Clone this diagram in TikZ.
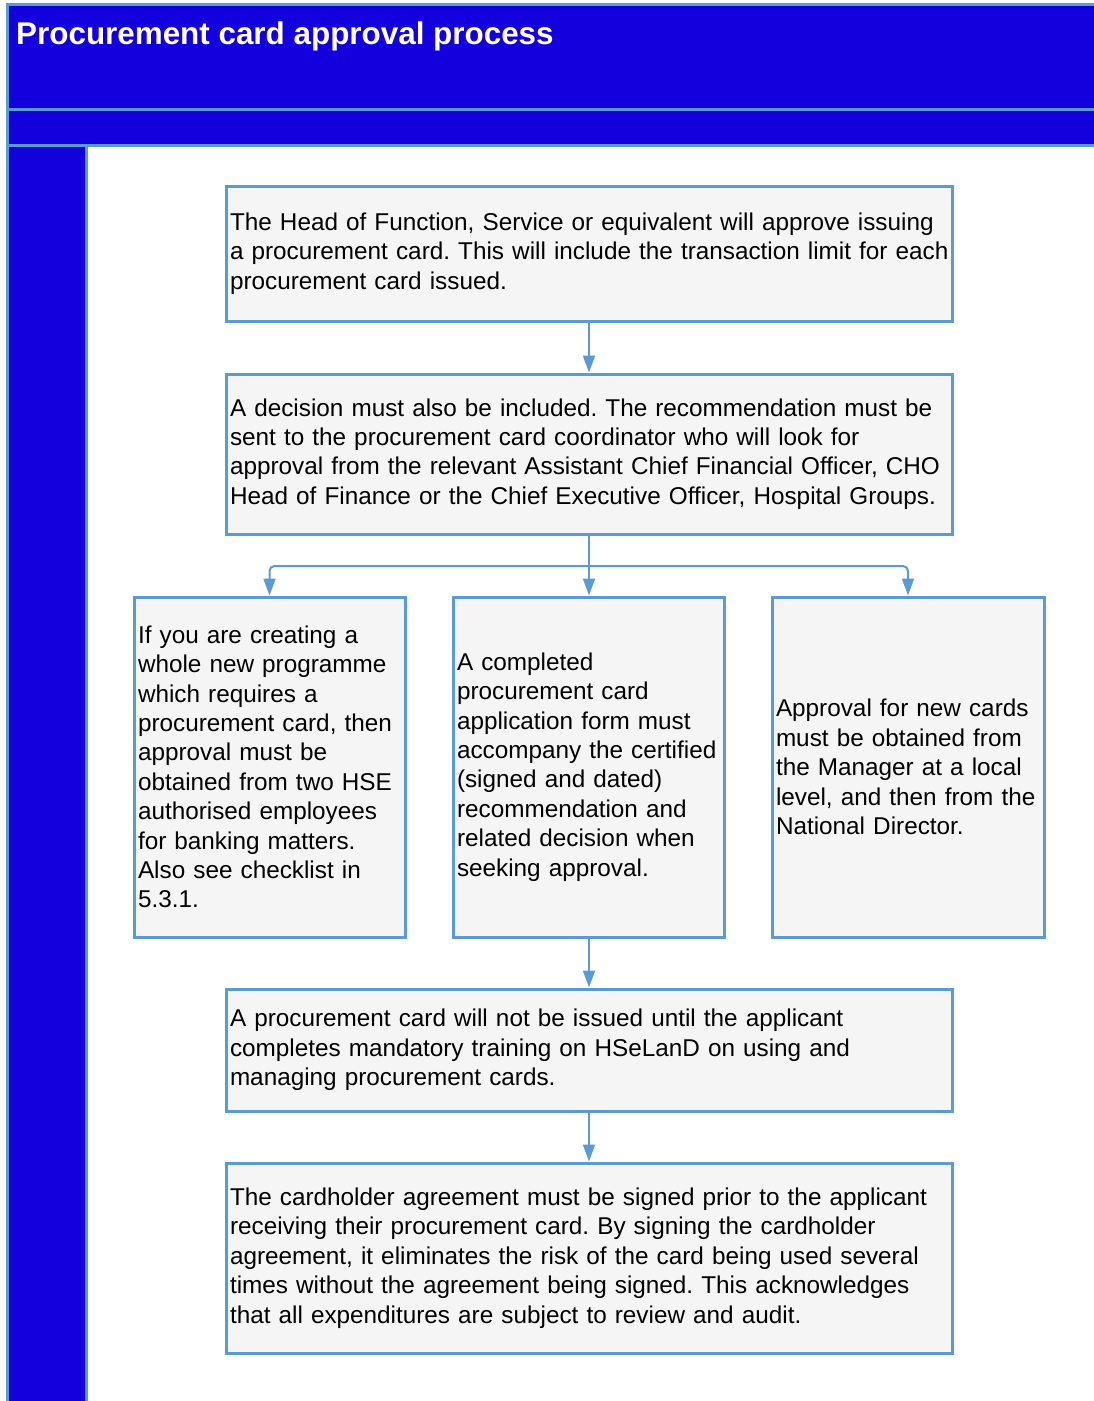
\documentclass[tikz,border=0pt]{standalone}
\usepackage{fontspec}
\setmainfont{Liberation Sans}
\usetikzlibrary{arrows.meta}
\frenchspacing

\definecolor{hseblue}{RGB}{19,0,221}
\definecolor{edgeblue}{RGB}{91,155,213}
\definecolor{boxgrey}{RGB}{245,245,245}

\tikzset{
  band/.style={fill=hseblue, draw=edgeblue, line width=3pt},
  stepbox/.style={draw=edgeblue, line width=3pt, fill=boxgrey, align=left,
    inner xsep=4pt, inner ysep=0pt, font=\fontsize{24.3}{29.4}\selectfont},
  flowline/.style={draw=edgeblue, line width=2pt},
  flow/.style={flowline, -{Triangle[length=17pt,width=12pt]}}
}

\begin{document}
\begin{tikzpicture}[x=1pt, y=-1pt]
          \useasboundingbox (0,0) rectangle (1093,1401);

          % header and side column
          \draw[band] (7,4) rectangle (1100,109);
          \draw[band] (7,109) rectangle (1100,145);
          \draw[band] (7,145) rectangle (86,1410);
          \node[anchor=base west, inner sep=0pt, text=white,
            font=\fontsize{31.4}{36}\selectfont\bfseries] (title) at (16,44)
            {Procurement card approval process};

          \node[stepbox, text width=718pt, minimum height=135pt] (approve) at (589,253.5)
            {The Head of Function, Service or equivalent will approve issuing\\
             \mbox{a procurement card. This will include the transaction limit for each}\\
             procurement card issued.};
          \node[stepbox, text width=718pt, minimum height=160pt] (decision) at (589,454)
            {A decision must also be included. The recommendation must be\\
             sent to the procurement card coordinator who will look for\\
             approval from the relevant Assistant Chief Financial Officer, CHO\\
             Head of Finance or the Chief Executive Officer, Hospital Groups.};

          \begin{scope}[every node/.append style={minimum height=340pt}]
            \node[stepbox, text width=263pt] (newprog) at (269.5,767)
              {If you are creating a\\ whole new programme\\ which requires a\\
               procurement card, then\\ approval must be\\ obtained from two HSE\\
               authorised employees\\ for banking matters.\\ Also see checklist in\\ 5.3.1.};
            \node[stepbox, text width=263pt] (appform) at (588.5,767)
              {A completed\\ procurement card\\ application form must\\
               accompany the certified\\ (signed and dated)\\ recommendation and\\
               related decision when\\ seeking approval.};
            \node[stepbox, text width=264pt] (newcards) at (908,767)
              {Approval for new cards\\ must be obtained from\\ the Manager at a local\\
               level, and then from the\\ National Director.};
          \end{scope}

          \node[stepbox, text width=718pt, minimum height=122pt] (training) at (589,1050)
            {A procurement card will not be issued until the applicant\\
             completes mandatory training on HSeLanD on using and\\
             managing procurement cards.};
          \node[stepbox, text width=718pt, minimum height=190pt] (agreement) at (589,1258)
            {The cardholder agreement must be signed prior to the applicant\\
             receiving their procurement card. By signing the cardholder\\
             agreement, it eliminates the risk of the card being used several\\
             times without the agreement being signed. This acknowledges\\
             that all expenditures are subject to review and audit.};

          % connectors
          \coordinate (fork) at (589,566);
          \draw[flow] (approve.south) -- (decision.north);
          \draw[flowline] (decision.south) -- (fork);
          \draw[flow, rounded corners=5pt] (fork) -| (newprog.north);
          \draw[flow] (fork) -- (fork |- appform.north);
          \draw[flow, rounded corners=5pt] (fork) -| (newcards.north);
          \draw[flow] (appform.south -| training.north) -- (training.north);
          \draw[flow] (training.south) -- (agreement.north);
\end{tikzpicture}
\end{document}
